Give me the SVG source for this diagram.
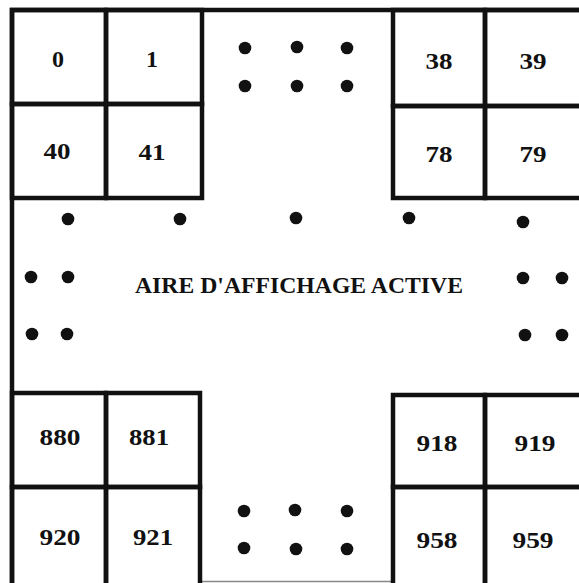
<svg xmlns="http://www.w3.org/2000/svg" width="579" height="583" viewBox="0 0 579 583">
<style>
.c{fill:none;stroke:#111;stroke-width:4.5}
.f{fill:none;stroke:#111;stroke-width:4.5}
.n{font-family:"Liberation Serif","Times New Roman",serif;font-weight:bold;font-size:24px;fill:#111;text-anchor:middle}
.t{font-family:"Liberation Serif","Times New Roman",serif;font-weight:bold;font-size:23px;fill:#111}
.d{fill:#111}
</style>
<defs><circle id="dot" r="6.3" class="d"/></defs>
<rect width="579" height="583" fill="#fff"/>
<g id="frame">
<path class="f" d="M12,583 V10 H579"/>
<path d="M200,581.5 H393" stroke="#888" stroke-width="1.5" fill="none"/>
</g>
<g id="cell-0"><rect class="c" x="12" y="10" width="94" height="94"/><text class="n" x="58" y="67">0</text></g>
<g id="cell-1"><rect class="c" x="106" y="10" width="96" height="94"/><text class="n" x="152" y="67">1</text></g>
<g id="cell-40"><rect class="c" x="12" y="104" width="94" height="94"/><text class="n" x="57" y="159" textLength="27" lengthAdjust="spacingAndGlyphs">40</text></g>
<g id="cell-41"><rect class="c" x="106" y="104" width="96" height="94"/><text class="n" x="152" y="160" textLength="27" lengthAdjust="spacingAndGlyphs">41</text></g>
<g id="cell-38"><rect class="c" x="393" y="10" width="92" height="96"/><text class="n" x="439" y="69" textLength="27" lengthAdjust="spacingAndGlyphs">38</text></g>
<g id="cell-39"><rect class="c" x="485" y="10" width="115" height="96"/><text class="n" x="533" y="69" textLength="27" lengthAdjust="spacingAndGlyphs">39</text></g>
<g id="cell-78"><rect class="c" x="393" y="106" width="92" height="92"/><text class="n" x="439" y="162" textLength="27" lengthAdjust="spacingAndGlyphs">78</text></g>
<g id="cell-79"><rect class="c" x="485" y="106" width="115" height="92"/><text class="n" x="533" y="162" textLength="27" lengthAdjust="spacingAndGlyphs">79</text></g>
<g id="cell-880"><rect class="c" x="12" y="393" width="94" height="94"/><text class="n" x="60" y="445" textLength="41" lengthAdjust="spacingAndGlyphs">880</text></g>
<g id="cell-881"><rect class="c" x="106" y="393" width="94" height="94"/><text class="n" x="149" y="445" textLength="40" lengthAdjust="spacingAndGlyphs">881</text></g>
<g id="cell-920"><rect class="c" x="12" y="487" width="94" height="120"/><text class="n" x="60" y="545" textLength="41" lengthAdjust="spacingAndGlyphs">920</text></g>
<g id="cell-921"><rect class="c" x="106" y="487" width="94" height="120"/><text class="n" x="153" y="545" textLength="40" lengthAdjust="spacingAndGlyphs">921</text></g>
<g id="cell-918"><rect class="c" x="393" y="395" width="92" height="92"/><text class="n" x="437" y="451" textLength="41" lengthAdjust="spacingAndGlyphs">918</text></g>
<g id="cell-919"><rect class="c" x="485" y="395" width="115" height="92"/><text class="n" x="535" y="451" textLength="41" lengthAdjust="spacingAndGlyphs">919</text></g>
<g id="cell-958"><rect class="c" x="393" y="487" width="92" height="120"/><text class="n" x="437" y="548" textLength="41" lengthAdjust="spacingAndGlyphs">958</text></g>
<g id="cell-959"><rect class="c" x="485" y="487" width="115" height="120"/><text class="n" x="533" y="548" textLength="41" lengthAdjust="spacingAndGlyphs">959</text></g>
<g id="label"><text class="t" x="135" y="293" textLength="328" lengthAdjust="spacingAndGlyphs">AIRE D'AFFICHAGE ACTIVE</text></g>
<g id="dots">
<use href="#dot" x="245" y="48"/><use href="#dot" x="297" y="47"/><use href="#dot" x="347" y="48"/>
<use href="#dot" x="245" y="86"/><use href="#dot" x="297" y="86"/><use href="#dot" x="347" y="86"/>
<use href="#dot" x="68" y="219"/><use href="#dot" x="180" y="219"/><use href="#dot" x="296" y="218"/><use href="#dot" x="409" y="218"/><use href="#dot" x="523" y="222"/>
<use href="#dot" x="31" y="277"/><use href="#dot" x="68" y="277"/><use href="#dot" x="523" y="278"/><use href="#dot" x="562" y="278"/>
<use href="#dot" x="32" y="334"/><use href="#dot" x="67" y="334"/><use href="#dot" x="525" y="335"/><use href="#dot" x="562" y="335"/>
<use href="#dot" x="244" y="511"/><use href="#dot" x="295" y="510"/><use href="#dot" x="347" y="511"/>
<use href="#dot" x="244" y="548"/><use href="#dot" x="296" y="549"/><use href="#dot" x="347" y="549"/>
</g>
</svg>
